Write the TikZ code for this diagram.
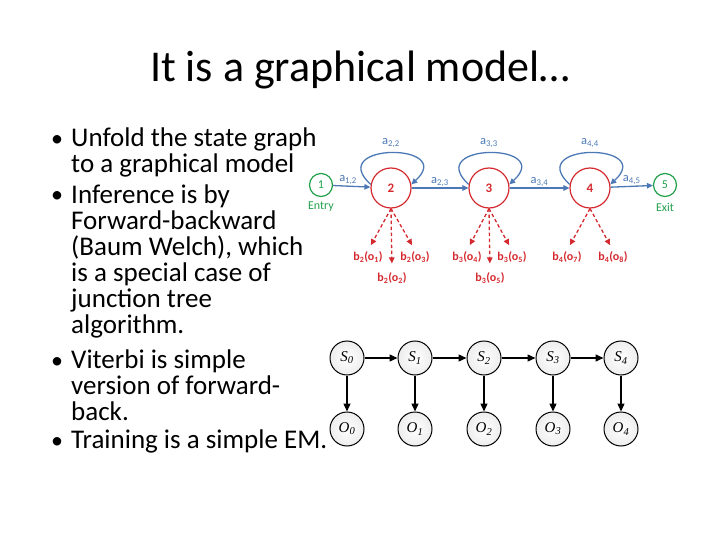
\documentclass[tikz,border=0pt]{standalone}
\usepackage{fontspec}
\setmainfont{Carlito}
\newfontfamily\tmsfont{Liberation Serif}
\usetikzlibrary{arrows.meta}
\definecolor{hmmred}{HTML}{D42A2F}
\definecolor{hmmblue}{HTML}{4C79B5}
\definecolor{hmmgreen}{HTML}{22A04C}

\begin{document}
\begin{tikzpicture}[x=1pt, y=-1pt,
  title/.style = {anchor=base, inner sep=0pt, font=\fontsize{44}{50}\selectfont},
  itm/.style   = {anchor=base west, align=left, inner sep=0pt,
                  font=\fontsize{27}{26}\selectfont},
  dot/.style   = {anchor=base west, inner sep=0pt, font=\fontsize{24}{26}\selectfont},
  st/.style    = {circle, draw=hmmred, line width=1.2pt, minimum size=40pt,
                  inner sep=0pt, text=hmmred, font=\fontsize{13}{13}\selectfont\bfseries},
  endst/.style = {circle, draw=hmmgreen, line width=1.2pt, minimum size=23pt,
                  inner sep=0pt, text=hmmgreen, font=\fontsize{12}{12}\selectfont},
  glbl/.style  = {text=hmmgreen, font=\fontsize{12}{12}\selectfont},
  tr/.style    = {draw=hmmblue, line width=1.3pt, -{Triangle[length=6pt,width=5.5pt]}},
  tlbl/.style  = {text=hmmblue, inner sep=1pt, font=\fontsize{12.5}{12.5}\selectfont},
  em/.style    = {draw=hmmred, line width=1.3pt, dash pattern=on 3.5pt off 2.5pt,
                  -{Triangle[length=6pt,width=5.5pt]}},
  elbl/.style  = {text=hmmred, inner sep=1pt, font=\fontsize{12}{12}\selectfont\bfseries},
  hs/.style    = {circle, draw=black, line width=1pt, minimum size=34pt, inner sep=0pt,
                  inner color=white, outer color=black!7,
                  font=\tmsfont\itshape\fontsize{15}{15}\selectfont},
  ha/.style    = {-{Triangle[length=8pt,width=7pt]}, line width=1.4pt},
]
\useasboundingbox (0,0) rectangle (720,540);

% title and bullets (text nodes sit on the baseline of their last line)
\node[title] (ttl) at (360,82) {It is a graphical model…};
\node[dot] (d1) at (51,147) {•};
\node[itm] (t1) at (71,173) {Unfold the state graph\\to a graphical model};
\node[dot] (d2) at (51,203) {•};
\node[itm] (t2) at (71,333) {Inference is by\\Forward-backward\\(Baum Welch), which\\is a special case of\\junction tree\\algorithm.};
\node[dot] (d3) at (51,368) {•};
\node[itm] (t3) at (71,420) {Viterbi is simple\\version of forward-\\back.};
\node[dot] (d4) at (51,448) {•};
\node[itm] (t4) at (71,448) {Training is a simple EM.};

% state graph
\node[endst] (n1) at (321,185) {1};
\node[st] (n2) at (391,188) {2};
\node[st] (n3) at (489,188) {3};
\node[st] (n4) at (590,188) {4};
\node[endst] (n5) at (665,185) {5};
\node[glbl] (entry) at (321,207) {Entry};
\node[glbl] (exit) at (665,207) {Exit};

\draw[tr] (n1) -- node[tlbl, pos=.4, above] {a\textsubscript{1,2}} (n2);
\draw[tr] (n2) -- node[tlbl, above] {a\textsubscript{2,3}} (n3);
\draw[tr] (n3) -- node[tlbl, above] {a\textsubscript{3,4}} (n4);
\draw[tr] (n4) -- node[tlbl, above] {a\textsubscript{4,5}} (n5);
\draw[tr] (n2.170) .. controls +(-46,-42) and +(46,-42) .. node[tlbl, above=4pt] {a\textsubscript{2,2}} (n2.10);
\draw[tr] (n3.170) .. controls +(-46,-42) and +(46,-42) .. node[tlbl, above=4pt] {a\textsubscript{3,3}} (n3.10);
\draw[tr] (n4.170) .. controls +(-46,-42) and +(46,-42) .. node[tlbl, above=4pt] {a\textsubscript{4,4}} (n4.10);

% emissions
\node[elbl] (o21) at (368,257) {b\textsubscript{2}(o\textsubscript{1})};
\node[elbl] (o23) at (415,257) {b\textsubscript{2}(o\textsubscript{3})};
\node[elbl] (o22) at (392,278) {b\textsubscript{2}(o\textsubscript{2})};
\node[elbl] (o34) at (467,257) {b\textsubscript{3}(o\textsubscript{4})};
\node[elbl] (o36) at (512,257) {b\textsubscript{3}(o\textsubscript{5})};
\node[elbl] (o35) at (490,278) {b\textsubscript{3}(o\textsubscript{5})};
\node[elbl] (o47) at (567,257) {b\textsubscript{4}(o\textsubscript{7})};
\node[elbl] (o48) at (613,257) {b\textsubscript{4}(o\textsubscript{8})};
\draw[em, shorten >=6pt] (n2.south) -- (o21.north);
\draw[em, shorten >=6pt] (n2.south) -- (o23.north);
\draw[em, shorten >=8pt] (n2.south) -- (o22.north);
\draw[em, shorten >=6pt] (n3.south) -- (o34.north);
\draw[em, shorten >=6pt] (n3.south) -- (o36.north);
\draw[em, shorten >=8pt] (n3.south) -- (o35.north);
\draw[em, shorten >=6pt] (n4.south) -- (o47.north);
\draw[em, shorten >=6pt] (n4.south) -- (o48.north);

% unrolled model
\node[hs] (s0) at (347,358) {S\textsubscript{0}};
\node[hs] (s1) at (415,358) {S\textsubscript{1}};
\node[hs] (s2) at (484,358) {S\textsubscript{2}};
\node[hs] (s3) at (553,358) {S\textsubscript{3}};
\node[hs] (s4) at (621,358) {S\textsubscript{4}};
\node[hs] (y0) at (347,429) {O\textsubscript{0}};
\node[hs] (y1) at (415,429) {O\textsubscript{1}};
\node[hs] (y2) at (484,429) {O\textsubscript{2}};
\node[hs] (y3) at (553,429) {O\textsubscript{3}};
\node[hs] (y4) at (621,429) {O\textsubscript{4}};
\draw[ha] (s0) -- (s1);
\draw[ha] (s1) -- (s2);
\draw[ha] (s2) -- (s3);
\draw[ha] (s3) -- (s4);
\draw[ha] (s0) -- (y0);
\draw[ha] (s1) -- (y1);
\draw[ha] (s2) -- (y2);
\draw[ha] (s3) -- (y3);
\draw[ha] (s4) -- (y4);
\end{tikzpicture}
\end{document}
